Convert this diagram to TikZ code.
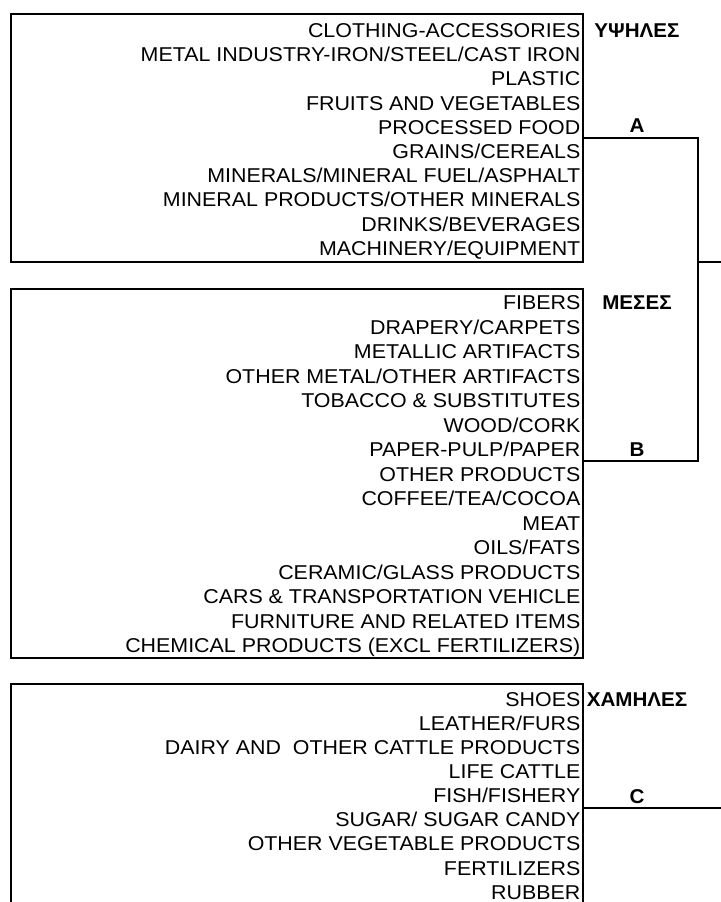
\documentclass[tikz,border=0pt]{standalone}
\usepackage{fontspec}
\setmainfont[FakeStretch=1.07, BoldFeatures={FakeStretch=1.03}]{Liberation Sans}
\usetikzlibrary{positioning}
\tikzstyle{sheet} = [x = 1pt, y = -1pt]
\tikzstyle{groupBox} = [color=black, line width=2pt]
\tikzstyle{bracketLine} = [color=black, line width=2pt]
\tikzstyle{productText} = [anchor=base east, inner sep=0pt, font=\fontsize{20}{24}\selectfont]
\tikzstyle{levelText} = [anchor=base, inner sep=0pt, font=\fontsize{20}{24}\selectfont\bfseries]
\newcommand{\textRight}{580.5}
\newcommand{\boxLeft}{11}
\newcommand{\boxRight}{582.5}
\newcommand{\levelX}{637}
\newcommand{\drawGroupBox}[2]{\draw [groupBox] (\boxLeft, #1) rectangle (\boxRight, #2);}
\newcommand{\productList}[4]{
  \foreach \product [count=\row from 0] in {#4} {
    \node [productText] (#1\row) at (\textRight, #2 + #3 * \row) {\product};
  }
}
\newcommand{\levelLabel}[3]{\node [levelText] (#1) at (\levelX, #2) {#3};}

\begin{document}
\begin{tikzpicture}[sheet]
  \useasboundingbox (0,0) rectangle (720,902);
  \drawGroupBox{13.5}{261.7}
  \drawGroupBox{289}{658.3}
  \draw [groupBox] (\boxLeft, 910) |- (\boxRight, 684) -- (\boxRight, 910);

  \productList{high}{37.5}{24.2}{CLOTHING-ACCESSORIES, METAL INDUSTRY-IRON/STEEL/CAST IRON, PLASTIC,
    FRUITS AND VEGETABLES, PROCESSED FOOD, GRAINS/CEREALS, MINERALS/MINERAL FUEL/ASPHALT,
    MINERAL PRODUCTS/OTHER MINERALS, DRINKS/BEVERAGES, MACHINERY/EQUIPMENT}
  \productList{mid}{309.5}{24.5}{FIBERS, DRAPERY/CARPETS, METALLIC ARTIFACTS, OTHER METAL/OTHER ARTIFACTS,
    TOBACCO \& SUBSTITUTES, WOOD/CORK, PAPER-PULP/PAPER, OTHER PRODUCTS, COFFEE/TEA/COCOA, MEAT,
    OILS/FATS, CERAMIC/GLASS PRODUCTS, CARS \& TRANSPORTATION VEHICLE, FURNITURE AND RELATED ITEMS,
    CHEMICAL PRODUCTS (EXCL FERTILIZERS)}
  \productList{low}{706}{24.15}{SHOES, LEATHER/FURS, DAIRY AND~ OTHER CATTLE PRODUCTS, LIFE CATTLE,
    FISH/FISHERY, SUGAR/ SUGAR CANDY, OTHER VEGETABLE PRODUCTS, FERTILIZERS, RUBBER}

  \levelLabel{highLevel}{37.5}{ΥΨΗΛΕΣ}
  \levelLabel{midLevel}{309.5}{ΜΕΣΕΣ}
  \levelLabel{lowLevel}{706}{ΧΑΜΗΛΕΣ}
  \levelLabel{groupA}{132.5}{A}
  \levelLabel{groupB}{456}{B}
  \levelLabel{groupC}{803}{C}

  % bracket joining A and B
  \coordinate (joinA) at (\boxRight, 137.7);
  \coordinate (joinB) at (\boxRight, 460.7);
  \coordinate (joinC) at (\boxRight, 808);
  \coordinate (spine) at (697.7, 261.7);
  \coordinate (outAB) at (722, 261.7);
  \coordinate (outC) at (722, 808);
  \draw [bracketLine] (joinA) -| (spine) |- (joinB);
  \draw [bracketLine] (spine) -- (outAB);
  \draw [bracketLine] (joinC) -- (outC);
\end{tikzpicture}
\end{document}
